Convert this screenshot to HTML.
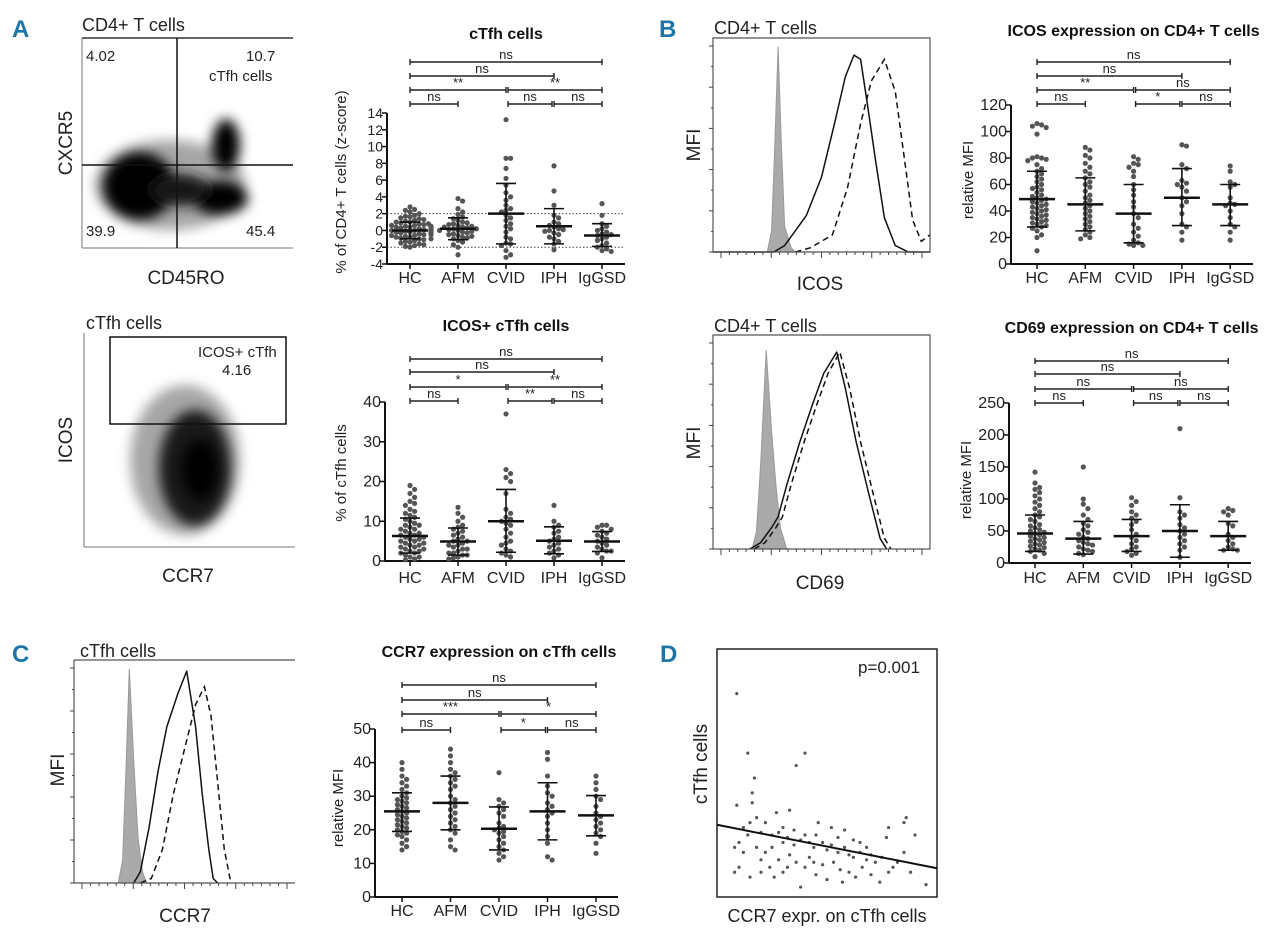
<!DOCTYPE html>
<html><head><meta charset="utf-8"><title>cTfh figure</title>
<style>
html,body{margin:0;padding:0;background:#fff;}
svg{display:block;font-family:"Liberation Sans",sans-serif;}
</style></head>
<body>
<svg id="fig" width="1280" height="931" viewBox="0 0 1280 931" xmlns="http://www.w3.org/2000/svg">
<defs><filter id="blur6" x="-50%" y="-50%" width="200%" height="200%"><feGaussianBlur stdDeviation="6"/></filter>
<filter id="blur3" x="-50%" y="-50%" width="200%" height="200%"><feGaussianBlur stdDeviation="3"/></filter></defs>
<g fill="#1c75a8" font-weight="bold" font-size="24">
<text x="12" y="37">A</text>
<text x="659" y="37">B</text>
<text x="12" y="662">C</text>
<text x="660" y="662">D</text>
</g>

<g>
<text x="82" y="31" font-size="18" fill="#222">CD4+ T cells</text>
<line x1="82" y1="38" x2="293" y2="38" stroke="#333" stroke-width="1.5"/>
<line x1="82" y1="38" x2="82" y2="248" stroke="#777" stroke-width="1"/>
<line x1="82" y1="248" x2="293" y2="248" stroke="#777" stroke-width="1"/>
<g filter="url(#blur6)">
<ellipse cx="139" cy="186" rx="36" ry="34" fill="#000"/>
<ellipse cx="220" cy="198" rx="28" ry="17" fill="#000"/>
<ellipse cx="226" cy="145" rx="14" ry="26" fill="#000"/>
<ellipse cx="180" cy="190" rx="30" ry="16" fill="#222"/>
<ellipse cx="170" cy="185" rx="75" ry="45" fill="#000" opacity="0.35"/>
</g>
<line x1="177" y1="38" x2="177" y2="248" stroke="#111" stroke-width="1.5"/>
<line x1="82" y1="165" x2="293" y2="165" stroke="#111" stroke-width="1.5"/>
<g font-size="15" fill="#222">
<text x="86" y="61">4.02</text>
<text x="246" y="61">10.7</text>
<text x="209" y="81">cTfh cells</text>
<text x="86" y="236">39.9</text>
<text x="246" y="236">45.4</text>
</g>
<text transform="translate(72,143) rotate(-90)" text-anchor="middle" font-size="19" fill="#222">CXCR5</text>
<text x="186" y="284" text-anchor="middle" font-size="19" fill="#222">CD45RO</text>
</g>

<g>
<text x="86" y="329" font-size="18" fill="#222">cTfh cells</text>
<line x1="84" y1="333" x2="84" y2="547" stroke="#777"/>
<line x1="84" y1="547" x2="295" y2="547" stroke="#777"/>
<g filter="url(#blur6)">
<ellipse cx="185" cy="460" rx="55" ry="75" fill="#000" opacity="0.35"/>
<ellipse cx="195" cy="468" rx="36" ry="58" fill="#000" opacity="0.85"/>
<ellipse cx="200" cy="470" rx="18" ry="30" fill="#000"/>
</g>
<rect x="110" y="337" width="176" height="87" fill="none" stroke="#111" stroke-width="1.5"/>
<text x="198" y="357" font-size="15" fill="#222">ICOS+ cTfh</text>
<text x="222" y="375" font-size="15" fill="#222">4.16</text>
<text transform="translate(72,440) rotate(-90)" text-anchor="middle" font-size="19" fill="#222">ICOS</text>
<text x="188" y="582" text-anchor="middle" font-size="19" fill="#222">CCR7</text>
</g>

<g fill="#222">
<text x="714" y="34" font-size="18">CD4+ T cells</text>
<text transform="translate(700,145) rotate(-90)" text-anchor="middle" font-size="19">MFI</text>
<text x="820" y="290" text-anchor="middle" font-size="19">ICOS</text>
<text x="714" y="332" font-size="18">CD4+ T cells</text>
<text transform="translate(700,443) rotate(-90)" text-anchor="middle" font-size="19">MFI</text>
<text x="820" y="589" text-anchor="middle" font-size="19">CD69</text>
<text x="80" y="657" font-size="18">cTfh cells</text>
<text transform="translate(64,770) rotate(-90)" text-anchor="middle" font-size="19">MFI</text>
<text x="185" y="922" text-anchor="middle" font-size="19">CCR7</text>
</g>

<g fill="#222">
<text x="858" y="673" font-size="17">p=0.001</text>
<text transform="translate(707,764) rotate(-90)" text-anchor="middle" font-size="19">cTfh cells</text>
<text x="827" y="922" text-anchor="middle" font-size="18">CCR7 expr. on cTfh cells</text>
</g>
</svg>

<script>
const categories = ['HC','AFM','CVID','IPH','IgGSD'];
const ctfhHC = [2.8,2.5,2.4,2.2,2.0,1.8,1.7,1.6,1.5,1.4,1.3,1.2,1.1,1.0,1.0,0.9,0.8,0.8,0.7,0.6,0.6,0.5,0.5,0.4,0.4,0.3,0.3,0.2,0.2,0.1,0.1,0.0,0.0,0.0,-0.1,-0.1,-0.2,-0.2,-0.3,-0.3,-0.4,-0.4,-0.5,-0.5,-0.6,-0.6,-0.7,-0.8,-0.8,-0.9,-1.0,-1.0,-1.1,-1.2,-1.3,-1.4,-1.5,-1.6,-1.7,-1.8,-1.9,-2.0];
const ctfhAFM = [3.8,3.5,2.6,2.2,1.9,1.6,1.4,1.2,1.0,0.9,0.8,0.7,0.6,0.5,0.4,0.4,0.3,0.2,0.2,0.1,0.0,0.0,-0.1,-0.2,-0.3,-0.4,-0.5,-0.6,-0.7,-0.8,-0.9,-1.0,-1.2,-1.4,-1.7,-2.0,-2.9];
const ctfhCVID = [13.2,8.6,8.6,7.4,6.2,5.4,4.5,4.0,3.6,3.0,2.6,2.4,2.2,1.8,1.5,1.2,0.8,0.5,0.2,-0.2,-0.8,-1.0,-1.5,-1.6,-1.8,-2.4,-2.9,-3.2];
const ctfhIPH = [7.7,4.7,3.0,1.8,1.5,1.0,0.8,0.6,0.4,0.2,0.1,0.0,-0.1,-0.3,-0.5,-0.8,-1.0,-1.3,-1.6,-2.3];
const ctfhIgGSD = [3.2,1.8,0.8,0.5,0.2,0.0,-0.2,-0.4,-0.5,-0.6,-0.8,-1.0,-1.2,-1.5,-1.8,-2.0,-2.2,-2.4,-2.5];
const ctfhMean = [0,0.2,2,0.5,-0.6];
const ctfhUpper = [1,1.5,5.6,2.6,0.8];
const ctfhLower = [-1,-1.1,-1.6,-1.6,-1.9];
const ctfhTicks = [-4,-2,0,2,4,6,8,10,12,14];
const ctfhSigLabels = ['ns','ns','**','**','ns','ns','ns'];

const icosHC = [19,18,17,16,15,14.5,14,13,12.5,12,11.5,11,10.5,10,9.5,9,9,8.5,8,8,7.5,7,7,6.5,6.5,6,6,5.5,5.5,5,5,4.5,4.5,4,4,3.5,3.5,3,3,2.5,2.5,2,2,1.5,1,1,0.5,0.3];
const icosAFM = [13.5,12,11,10,9,8.5,8,7.5,7,6.5,6,5.5,5,5,4.5,4,4,3.5,3,3,2.5,2,2,1.5,1.5,1,0.8,0.5];
const icosCVID = [37,23,22,21,20,17,13,12,11,10.5,10,9.5,9,8,7,6,5,4.5,4,3,2.5,2,1.5,1];
const icosIPH = [14,10,9,8.5,7.5,7,6,5.5,5,4.5,4,3.5,3,2.5,2,1.5,0.8];
const icosIgGSD = [9,9,8.5,8,7.5,7,6.5,6,5.5,5,4.5,4,3.5,3,2.5,2.5,2,0.8];
const icosMean = [6.3,4.9,10,5.1,4.9];
const icosUpper = [10.8,8.3,18,8.6,7.4];
const icosLower = [2,1.5,2.2,1.8,2.4];
const icosTicks = [0,10,20,30,40];
const icosSigLabels = ['ns','ns','*','**','ns','**','ns'];

const icosMfiHC = [106,105,104,103,98,81,80,80,79,78,75,72,70,68,66,64,62,60,58,57,56,54,52,51,50,49,48,47,46,45,44,43,42,41,40,39,38,37,36,35,34,33,32,31,30,29,28,27,25,22,20,10];
const icosMfiAFM = [88,86,82,80,76,73,70,68,65,62,60,58,55,52,50,48,46,44,42,40,38,36,34,32,30,28,26,24,22,20,19];
const icosMfiCVID = [81,79,76,75,73,70,66,60,56,52,47,43,38,35,30,27,24,21,18,16,15,14,14];
const icosMfiIPH = [90,89,75,72,63,61,60,58,55,50,47,44,38,30,28,24,18];
const icosMfiIgGSD = [74,70,62,60,58,50,46,45,44,40,35,30,28,24,18];
const icosMfiMean = [49,45,38,50,45];
const icosMfiUpper = [70,65,60,72,60];
const icosMfiLower = [28,25,16,29,29];
const icosMfiTicks = [0,20,40,60,80,100,120];
const icosMfiSigLabels = ['ns','ns','**','ns','ns','*','ns'];

const cd69HC = [142,125,118,115,110,105,100,95,90,85,80,75,72,68,65,60,58,55,52,50,48,46,44,42,40,38,36,34,32,30,28,26,24,22,20,18,15,10];
const cd69AFM = [150,100,92,85,75,68,62,58,52,48,45,40,38,35,32,30,28,25,22,20,18,15,13];
const cd69CVID = [102,96,90,80,75,70,65,60,52,45,40,35,30,25,22,18,15,12];
const cd69IPH = [210,102,80,75,70,60,55,50,45,40,35,30,25,20,9];
const cd69IgGSD = [85,82,80,75,62,58,45,40,35,30,25,22,20,20];
const cd69Mean = [46,38,42,50,42];
const cd69Upper = [75,65,68,91,65];
const cd69Lower = [18,14,18,9,20];
const cd69Ticks = [0,50,100,150,200,250];
const cd69SigLabels = ['ns','ns','ns','ns','ns','ns','ns'];

const ccr7HC = [40,38,36,35,34,33,32,31,30,29.5,29,28.5,28,27.5,27,26.5,26,25.5,25,24.5,24,23.5,23,22.5,22,21.5,21,20.5,20,19.5,19,18.5,18,17,16,15,14];
const ccr7AFM = [44,42,40,38,37,36,35,34,33,32,30,29,28,27,26,25,24,23,22,21,20,19,17,15,14];
const ccr7CVID = [37,29,28,27,26,25,24,22,21,20.5,20,19.5,19,18,17,16,15,14,13,12,11];
const ccr7IPH = [43,41,36,33,31,30,28,27,26,25,24,22,20,18,16,12,11];
const ccr7IgGSD = [36,34,32,30,29,27,25,24,23,22,21,20,19,18,16,13];
const ccr7Mean = [25.5,28,20.3,25.5,24.3];
const ccr7Upper = [31,36,26.8,34,30.2];
const ccr7Lower = [19.5,20,14,17,18.2];
const ccr7Ticks = [0,10,20,30,40,50];
const ccr7SigLabels = ['ns','ns','***','*','ns','*','ns'];

const sigPairs = [[0,4,0],[0,3,1],[0,2,2],[2,4,2],[0,1,3],[2,3,3],[3,4,3]];

const corrX = [9,14,40,36,17,16,33,9,16,15,22,46,86,77,25,28,30,32,35,38,40,42,44,48,50,52,55,58,60,62,65,68,70,72,75,80,85,88,95,8,10,12,14,18,20,22,24,26,28,30,33,36,38,40,42,45,48,50,53,56,60,63,66,70,74,78,82,20,25,30,35,45,55,65,12,18,27,52,58,62,68,20,32,44,57,85,90,78,8,10,15];
const corrY = [82,58,58,53,48,42,35,37,38,30,30,30,32,24,25,26,22,24,21,23,25,22,20,22,19,21,18,20,17,16,18,15,17,14,16,12,18,10,5,20,22,18,25,20,15,18,12,8,15,10,17,14,4,12,16,9,13,7,14,11,10,8,12,9,6,10,14,26,20,28,27,25,24,22,28,32,34,28,27,23,20,10,12,14,6,30,25,28,10,12,8];

const histB1Iso = [[0.25,0],[0.27,0.1],[0.285,0.5],[0.3,0.96],[0.315,0.5],[0.33,0.12],[0.36,0.02],[0.38,0]];
const histB1Solid = [[0,0],[0.28,0],[0.33,0.03],[0.38,0.1],[0.43,0.17],[0.5,0.35],[0.56,0.6],[0.61,0.82],[0.65,0.92],[0.68,0.9],[0.71,0.7],[0.75,0.42],[0.79,0.16],[0.84,0.03],[0.9,0],[1,0]];
const histB1Dash = [[0.38,0],[0.45,0.02],[0.55,0.08],[0.62,0.3],[0.68,0.6],[0.73,0.8],[0.79,0.9],[0.84,0.75],[0.88,0.45],[0.92,0.15],[0.96,0.05],[1.0,0.08]];
const histB2Iso = [[0.18,0],[0.2,0.08],[0.22,0.4],[0.245,0.93],[0.27,0.55],[0.29,0.3],[0.31,0.1],[0.34,0]];
const histB2Solid = [[0.17,0],[0.22,0.03],[0.27,0.1],[0.3,0.15],[0.34,0.3],[0.4,0.5],[0.46,0.68],[0.51,0.82],[0.57,0.92],[0.61,0.75],[0.66,0.5],[0.72,0.25],[0.77,0.05],[0.8,0]];
const histB2Dash = [[0.19,0],[0.24,0.03],[0.29,0.1],[0.32,0.15],[0.36,0.3],[0.42,0.5],[0.48,0.68],[0.53,0.82],[0.585,0.92],[0.63,0.75],[0.68,0.5],[0.74,0.25],[0.79,0.05],[0.82,0]];
const histCIso = [[0.2,0],[0.22,0.1],[0.235,0.5],[0.25,0.96],[0.27,0.55],[0.29,0.2],[0.31,0.05],[0.33,0]];
const histCSolid = [[0.27,0],[0.3,0.05],[0.34,0.25],[0.38,0.5],[0.42,0.7],[0.47,0.85],[0.51,0.95],[0.55,0.7],[0.58,0.4],[0.61,0.15],[0.63,0.02],[0.65,0]];
const histCDash = [[0.3,0],[0.35,0.02],[0.4,0.15],[0.45,0.4],[0.5,0.6],[0.55,0.8],[0.59,0.88],[0.62,0.75],[0.65,0.45],[0.68,0.15],[0.71,0]];

const NS = 'http://www.w3.org/2000/svg';
const svg = document.getElementById('fig');
function mk(tag, attrs, parent) {
  const e = document.createElementNS(NS, tag);
  for (const k in attrs) e.setAttribute(k, attrs[k]);
  parent.appendChild(e);
  return e;
}

function dotChart(c) {
  const g = mk('g', {}, svg);
  
  
  const yS = v => c.yBot - (v - c.ymin) / (c.ymax - c.ymin) * (c.yBot - c.yTop);
  const xS = i => c.x0 + c.off + i * c.step;
  const t = mk('text', {x: xS(2), y: c.titleY, 'text-anchor': 'middle', 'font-size': 16, 'font-weight': 'bold', fill: '#111'}, g);
  
  
  t.textContent = c.title;
  const yl = mk('text', {transform: `translate(${c.ylX},${c.ylY}) rotate(-90)`, 'text-anchor': 'middle', 'font-size': 15, fill: '#222'}, g);
  
  
  yl.textContent = c.ylabel;
  const ya = mk('line', {x1: c.x0, y1: yS(c.ticks[c.ticks.length - 1]), x2: c.x0, y2: c.yBot, stroke: '#111', 'stroke-width': 2}, g);
  
  
  const xa = mk('line', {x1: c.x0, y1: c.yBot, x2: c.xEnd, y2: c.yBot, stroke: '#111', 'stroke-width': 2}, g);
  
  
  c.ticks.forEach(v => {
    const tk = mk('line', {x1: c.x0 - 5, y1: yS(v), x2: c.x0, y2: yS(v), stroke: '#111', 'stroke-width': 1.5}, g);
    
    
    const tl = mk('text', {x: c.x0 - 4, y: yS(v) + 5, 'text-anchor': 'end', 'font-size': c.tickFont, fill: '#222'}, g);
    
    
    tl.textContent = v;
  });
  (c.refLines || []).forEach(v => {
    const rl = mk('line', {x1: c.x0, y1: yS(v), x2: c.xEnd, y2: yS(v), stroke: '#444', 'stroke-width': 1, 'stroke-dasharray': '1.5,2'}, g);
    
    
  });
  categories.forEach((cat, i) => {
    const ct = mk('line', {x1: xS(i), y1: c.yBot, x2: xS(i), y2: c.yBot + 5, stroke: '#111', 'stroke-width': 1.5}, g);
    
    
    const cl = mk('text', {x: xS(i), y: c.catY, 'text-anchor': 'middle', 'font-size': 16, fill: '#222'}, g);
    
    
    cl.textContent = cat;
  });
  c.groups.forEach((vals, i) => {
    const placed = [];
    const sorted = vals.slice().sort((a, b) => b - a);
    sorted.forEach(v => {
      const y = yS(v);
      let off = 0;
      for (let k = 0; k < 20; k++) {
        const cand = k === 0 ? 0 : (k % 2 ? 1 : -1) * Math.ceil(k / 2) * 4.6;
        if (Math.abs(cand) > 21) { off = (k % 2 ? 1 : -1) * 21; break; }
        const clash = placed.some(p => Math.abs(p[1] - y) < 4.6 && Math.abs(p[0] - cand) < 4.6);
        if (!clash) { off = cand; break; }
      }
      placed.push([off, y]);
      const d = mk('circle', {cx: xS(i) + off, cy: y, r: 2.6, fill: '#555'}, g);
      
      
    });
    const ml = mk('line', {x1: xS(i) - 18, y1: yS(c.mean[i]), x2: xS(i) + 18, y2: yS(c.mean[i]), stroke: '#111', 'stroke-width': 2.5}, g);
    
    
    const sl = mk('line', {x1: xS(i), y1: yS(c.upper[i]), x2: xS(i), y2: yS(c.lower[i]), stroke: '#111', 'stroke-width': 1.6}, g);
    
    
    [c.upper[i], c.lower[i]].forEach(v => {
      const cap = mk('line', {x1: xS(i) - 10, y1: yS(v), x2: xS(i) + 10, y2: yS(v), stroke: '#111', 'stroke-width': 1.6}, g);
      
      
    });
  });
  sigPairs.forEach((p, k) => {
    const y = c.sigY[p[2]];
    const xa1 = xS(p[0]) + (p[0] === 2 && p[1] > 2 ? 2 : 0);
    const xb = xS(p[1]) - (p[2] === 3 && p[1] === 3 ? 2 : 0);
    const bar = mk('path', {d: `M${xa1},${y - 3}V${y + 3}M${xa1},${y}H${xb}M${xb},${y - 3}V${y + 3}`, stroke: '#222', 'stroke-width': 1.4, fill: 'none'}, g);
    
    
    const lb = mk('text', {x: (xa1 + xb) / 2, y: y - 3, 'text-anchor': 'middle', 'font-size': 13, fill: '#222'}, g);
    
    
    lb.textContent = c.sigLabels[k];
  });
}

dotChart({name: 'chart-ctfh-zscore', x0: 387, off: 23, step: 48, xEnd: 625, yTop: 113, yBot: 264, ymin: -4, ymax: 14,
  ticks: ctfhTicks, tickFont: 14, title: 'cTfh cells', titleY: 39, ylabel: '% of CD4+ T cells (z-score)', ylX: 346, ylY: 182,
  catY: 283, groups: [ctfhHC, ctfhAFM, ctfhCVID, ctfhIPH, ctfhIgGSD], mean: ctfhMean, upper: ctfhUpper, lower: ctfhLower,
  sigY: [62, 76, 90, 104], sigLabels: ctfhSigLabels, refLines: [2, -2]});
dotChart({name: 'chart-icos-ctfh', x0: 385, off: 25, step: 48, xEnd: 625, yTop: 402, yBot: 561, ymin: 0, ymax: 40,
  ticks: icosTicks, tickFont: 16, title: 'ICOS+ cTfh cells', titleY: 331, ylabel: '% of cTfh cells', ylX: 346, ylY: 473,
  catY: 583, groups: [icosHC, icosAFM, icosCVID, icosIPH, icosIgGSD], mean: icosMean, upper: icosUpper, lower: icosLower,
  sigY: [359, 372, 387, 401], sigLabels: icosSigLabels});
dotChart({name: 'chart-icos-mfi', x0: 1011, off: 26, step: 48.3, xEnd: 1253, yTop: 105, yBot: 264, ymin: 0, ymax: 120,
  ticks: icosMfiTicks, tickFont: 16, title: 'ICOS expression on CD4+ T cells', titleY: 36, ylabel: 'relative MFI', ylX: 973, ylY: 180,
  catY: 283, groups: [icosMfiHC, icosMfiAFM, icosMfiCVID, icosMfiIPH, icosMfiIgGSD], mean: icosMfiMean, upper: icosMfiUpper, lower: icosMfiLower,
  sigY: [62, 76, 90, 104], sigLabels: icosMfiSigLabels});
dotChart({name: 'chart-cd69-mfi', x0: 1009, off: 26, step: 48.3, xEnd: 1251, yTop: 403, yBot: 563, ymin: 0, ymax: 250,
  ticks: cd69Ticks, tickFont: 16, title: 'CD69 expression on CD4+ T cells', titleY: 333, ylabel: 'relative MFI', ylX: 971, ylY: 480,
  catY: 583, groups: [cd69HC, cd69AFM, cd69CVID, cd69IPH, cd69IgGSD], mean: cd69Mean, upper: cd69Upper, lower: cd69Lower,
  sigY: [361, 374, 389, 403], sigLabels: cd69SigLabels});
dotChart({name: 'chart-ccr7-mfi', x0: 375, off: 27, step: 48.5, xEnd: 618, yTop: 729, yBot: 897, ymin: 0, ymax: 50,
  ticks: ccr7Ticks, tickFont: 16, title: 'CCR7 expression on cTfh cells', titleY: 657, ylabel: 'relative MFI', ylX: 343, ylY: 808,
  catY: 916, groups: [ccr7HC, ccr7AFM, ccr7CVID, ccr7IPH, ccr7IgGSD], mean: ccr7Mean, upper: ccr7Upper, lower: ccr7Lower,
  sigY: [685, 700, 714, 730], sigLabels: ccr7SigLabels});

function histogram(h) {
  const g = mk('g', {}, svg);
  
  
  const xS = p => h.x0 + p * (h.x1 - h.x0);
  const yS = v => h.yBot - v * (h.yBot - h.yTop);
  const pts = arr => arr.map(p => xS(p[0]).toFixed(1) + ',' + yS(p[1]).toFixed(1)).join(' ');
  const iso = mk('polygon', {points: pts(h.iso), fill: '#aaa', stroke: '#999', 'stroke-width': 1}, g);
  
  
  const so = mk('polyline', {points: pts(h.solid), fill: 'none', stroke: '#111', 'stroke-width': 1.5, 'stroke-linejoin': 'round'}, g);
  
  
  const da = mk('polyline', {points: pts(h.dash), fill: 'none', stroke: '#111', 'stroke-width': 1.5, 'stroke-dasharray': '6,4'}, g);
  
  
  const frame = mk('path', {d: h.frame, fill: 'none', stroke: '#555', 'stroke-width': 1.2}, g);
  
  
  for (let k = 0; k <= 24; k++) {
    const tx = h.x0 + 8 + k * (h.x1 - h.x0 - 16) / 24;
    const tk = mk('line', {x1: tx, y1: h.yBot, x2: tx, y2: h.yBot + (k % 6 === 0 ? 6 : 3), stroke: '#444', 'stroke-width': 1}, g);
    
    
  }
  for (let k = 0; k <= 10; k++) {
    const ty = h.yBot - k * (h.yBot - h.yTop - 8) / 10;
    const tk = mk('line', {x1: h.x0 - (k % 2 === 0 ? 4 : 2), y1: ty, x2: h.x0, y2: ty, stroke: '#444', 'stroke-width': 1}, g);
    
    
  }
}
histogram({name: 'histogram-icos', x0: 713, x1: 930, yTop: 38, yBot: 252, iso: histB1Iso, solid: histB1Solid, dash: histB1Dash,
  frame: 'M713,38H930V252H713Z'});
histogram({name: 'histogram-cd69', x0: 713, x1: 930, yTop: 335, yBot: 549, iso: histB2Iso, solid: histB2Solid, dash: histB2Dash,
  frame: 'M713,335H930V549H713Z'});
histogram({name: 'histogram-ccr7', x0: 74, x1: 295, yTop: 660, yBot: 883, iso: histCIso, solid: histCSolid, dash: histCDash,
  frame: 'M74,660H295M74,660V883H295'});

(function () {
  const g = mk('g', {}, svg);
  
  
  const X0 = 717, X1 = 937, Y0 = 897, Y1 = 649;
  const xS = v => X0 + v / 100 * (X1 - X0);
  const yS = v => Y0 - v / 100 * (Y0 - Y1);
  const box = mk('rect', {x: X0, y: Y1, width: X1 - X0, height: Y0 - Y1, fill: 'none', stroke: '#222', 'stroke-width': 1.5}, g);
  
  
  corrX.forEach((x, i) => {
    const d = mk('circle', {cx: xS(x), cy: yS(corrY[i]), r: 1.6, fill: '#555'}, g);
    
    
  });
  const n = corrX.length;
  const mx = corrX.reduce((a, b) => a + b, 0) / n, my = corrY.reduce((a, b) => a + b, 0) / n;
  let sxy = 0, sxx = 0;
  corrX.forEach((x, i) => { sxy += (x - mx) * (corrY[i] - my); sxx += (x - mx) * (x - mx); });
  const slope = sxy / sxx, icpt = my - slope * mx;
  const rl = mk('line', {x1: xS(0), y1: yS(icpt), x2: xS(100), y2: yS(icpt + slope * 100), stroke: '#111', 'stroke-width': 2}, g);
  
  
})();
</script>
</body></html>
